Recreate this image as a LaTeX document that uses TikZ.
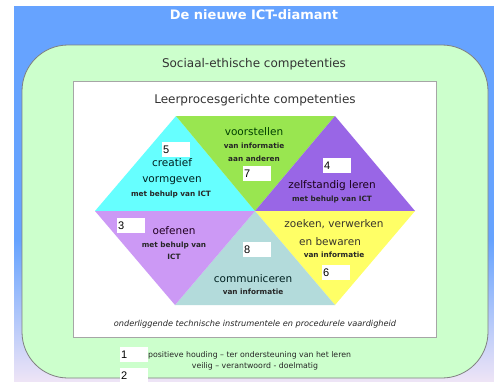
\documentclass[tikz,border=0pt]{standalone}
\usepackage{fontspec}
\setmainfont{DejaVu Sans}
\newfontfamily\numfont{Liberation Sans}
\definecolor{bgblue}{HTML}{66A3FF}
\definecolor{bglav}{HTML}{EEE4F6}
\definecolor{socgreen}{HTML}{CCFFCC}
\definecolor{tcyan}{HTML}{66FFFF}
\definecolor{tgreen}{HTML}{99E650}
\definecolor{tpurple}{HTML}{9966E6}
\definecolor{tyellow}{HTML}{FFFF66}
\definecolor{tteal}{HTML}{B3DBDB}
\definecolor{tlilac}{HTML}{CC99F5}
\definecolor{lblgray}{HTML}{333333}

\tikzset{
  lbl/.style={inner sep=0pt, text=lblgray, font=\fontsize{10.5}{12}\selectfont},
  sublbl/.style={inner sep=0pt, text=black!85, font=\bfseries\fontsize{7.3}{9}\selectfont},
  numbox/.style={fill=white, anchor=north west, minimum width=28pt, minimum height=15pt,
    inner sep=1pt, text width=26pt, align=left, font=\numfont\fontsize{11}{11}\selectfont},
  heading/.style={inner sep=0pt, text=lblgray, font=\fontsize{12}{14}\selectfont}
}

\begin{document}
\begin{tikzpicture}[x=1pt,y=-1pt]
    \useasboundingbox (0,0) rectangle (494,381);
    \fill[bgblue] (14,6) rectangle (494,241);
    \shade[top color=bgblue, bottom color=bglav] (14,240) rectangle (494,381);
    \node[inner sep=0pt, text=white, font=\bfseries\fontsize{13}{15}\selectfont] (title) at (254,15) {De nieuwe ICT-diamant};

    \draw[fill=socgreen, draw=black!50, line width=0.8pt, rounded corners=46pt] (22,45) rectangle (488,378);
    \node[heading] (sociaal) at (254,64) {Sociaal-ethische competenties};
    \draw[fill=white, draw=black!35, line width=0.8pt] (73,81) rectangle (436,337);
    \node[heading] (leerproces) at (255,100) {Leerprocesgerichte competenties};

    \coordinate (L) at (95,211);
    \coordinate (TL) at (176,116);
    \coordinate (TR) at (335,116);
    \coordinate (R) at (415,211);
    \coordinate (BR) at (335,305);
    \coordinate (BL) at (175,305);
    \coordinate (M) at (255,211);
    \fill[tcyan] (L) -- (TL) -- (M) -- cycle;
    \fill[tgreen] (TL) -- (TR) -- (M) -- cycle;
    \fill[tpurple] (TR) -- (R) -- (M) -- cycle;
    \fill[tyellow] (M) -- (R) -- (BR) -- cycle;
    \fill[tteal] (M) -- (BR) -- (BL) -- cycle;
    \fill[tlilac] (L) -- (M) -- (BL) -- cycle;

    \node[numbox] (n5) at (162,142) {5};
    \node[lbl, text=black!75!teal] (creatief) at (172,163) {creatief};
    \node[lbl, text=black!75!teal] (vormgeven) at (172,181) {vormgeven};
    \node[sublbl] (cremet) at (171,194) {met behulp van ICT};

    \node[lbl, text=black!75!green] (voorstellen) at (254,132) {voorstellen};
    \node[sublbl] (voorvan) at (254,146) {van informatie};
    \node[sublbl] (vooraan) at (254,159) {aan anderen};
    \node[numbox] (n7) at (243,166) {7};

    \node[numbox] (n4) at (323,158) {4};
    \node[lbl, text=black!80!violet] (zelfstandig) at (332,186) {zelfstandig leren};
    \node[sublbl] (zelfmet) at (332,199) {met behulp van ICT};

    \node[numbox] (n3) at (117,218) {3};
    \node[lbl, text=black!75!violet] (oefenen) at (174,231) {oefenen};
    \node[sublbl] (oefmet) at (174,245) {met behulp van};
    \node[sublbl] (oefict) at (174,257) {ICT};

    \node[numbox] (n8) at (243,242) {8};
    \node[lbl, text=black!75!teal] (communiceren) at (253,279) {communiceren};
    \node[sublbl] (comvan) at (253,292) {van informatie};

    \node[lbl, text=black!80!olive] (zoeken) at (334,224) {zoeken, verwerken};
    \node[lbl, text=black!80!olive] (bewaren) at (330,242) {en bewaren};
    \node[sublbl] (zoekvan) at (334,255) {van informatie};
    \node[numbox] (n6) at (322,265) {6};

    \node[inner sep=0pt, text=black!85, font=\itshape\fontsize{8.2}{10}\selectfont] (onder) at (255,324)
      {onderliggende technische instrumentele en procedurele vaardigheid};

    \node[numbox] (n1) at (120,347) {1};
    \node[numbox] (n2) at (120,368) {2};
    \node[inner sep=0pt, anchor=west, text=black!85, font=\fontsize{7.8}{9}\selectfont] (houding) at (148,355)
      {positieve houding – ter ondersteuning van het leren};
    \node[inner sep=0pt, text=black!85, font=\fontsize{7.8}{9}\selectfont] (veilig) at (255,366)
      {veilig – verantwoord - doelmatig};
\end{tikzpicture}
\end{document}
